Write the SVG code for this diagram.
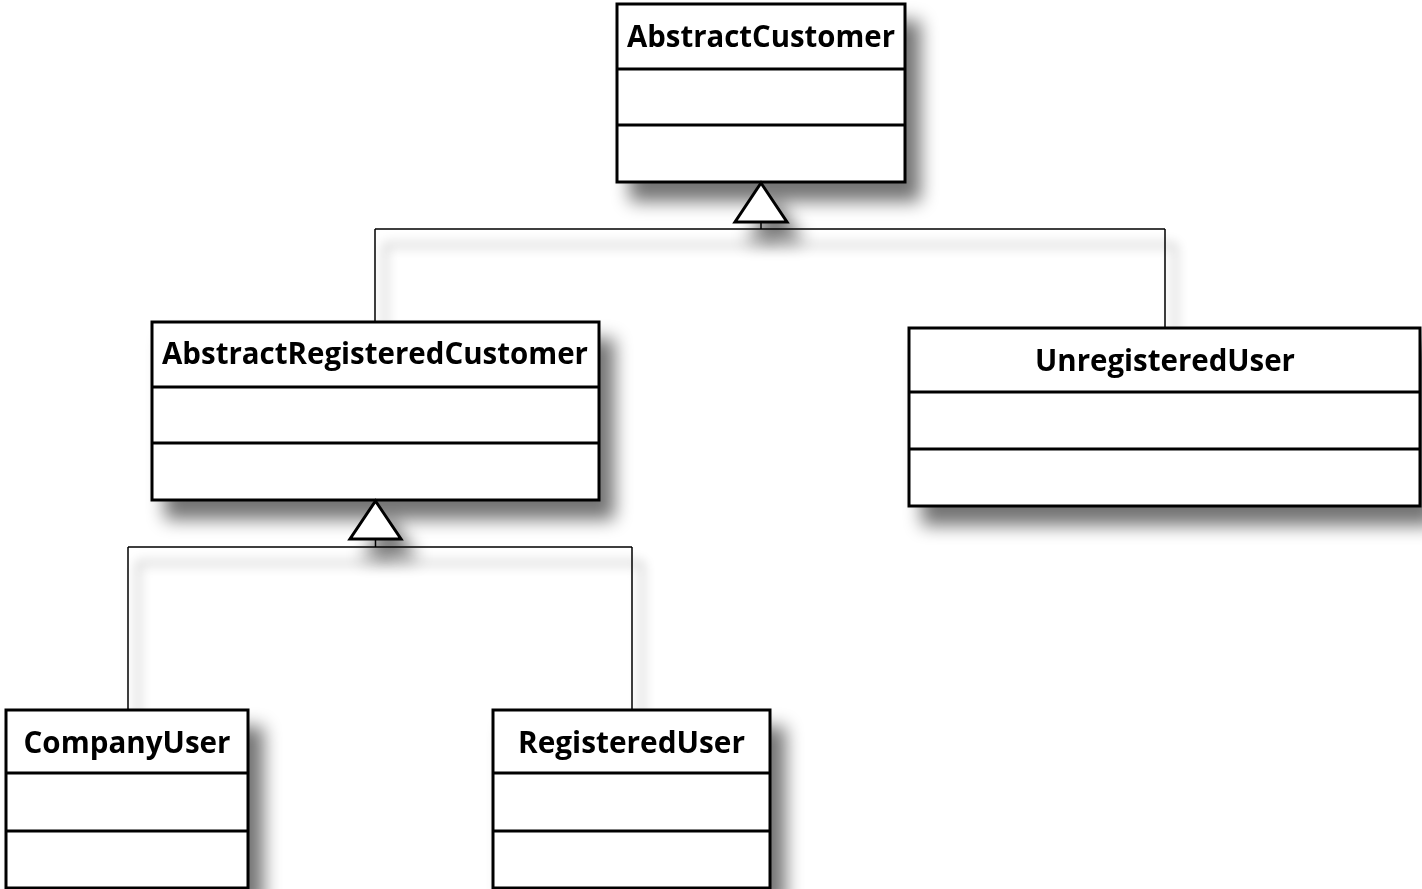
<svg xmlns="http://www.w3.org/2000/svg" width="1422" height="889" viewBox="0 0 1422 889">
<defs>
<filter id="sh" x="-20%" y="-20%" width="150%" height="160%">
<feGaussianBlur in="SourceAlpha" stdDeviation="9" result="b"/>
<feOffset in="b" dx="14" dy="18" result="o"/>
<feComponentTransfer in="o" result="s"><feFuncA type="linear" slope="0.55"/></feComponentTransfer>
<feMerge><feMergeNode in="s"/><feMergeNode in="SourceGraphic"/></feMerge>
</filter>
<filter id="shl" x="-10%" y="-50%" width="120%" height="300%">
<feGaussianBlur in="SourceAlpha" stdDeviation="6" result="b"/>
<feOffset in="b" dx="10" dy="16" result="o"/>
<feComponentTransfer in="o" result="s"><feFuncA type="linear" slope="0.6"/></feComponentTransfer>
<feMerge><feMergeNode in="s"/><feMergeNode in="SourceGraphic"/></feMerge>
</filter>
</defs>
<style>
.box{fill:#fff;stroke:#000;stroke-width:3}
.div{stroke:#000;stroke-width:3}
.ln{fill:none;stroke:#000;stroke-width:1.5}
.tri{fill:#fff;stroke:#000;stroke-width:3;stroke-linejoin:miter}
.t{font-family:"Open Sans","Liberation Sans",sans-serif;font-weight:bold;font-size:30px;fill:#000;text-anchor:middle}
</style>
<rect width="1422" height="889" fill="#fff"/>
<g id="connectors" filter="url(#shl)">
<path class="ln" d="M761 222 V229 M375 229 H1165 M375 229 V322 M1165 229 V328"/>
<path class="ln" d="M375.5 539 V547 M128 547 H632 M128 547 V710 M632 547 V710"/>
</g>
<g id="AbstractCustomer" filter="url(#sh)">
<rect class="box" x="617" y="4" width="288" height="178"/>
<line class="div" x1="617" y1="69" x2="905" y2="69"/>
<line class="div" x1="617" y1="125" x2="905" y2="125"/>
<text class="t" x="761" y="47" textLength="268" lengthAdjust="spacingAndGlyphs">AbstractCustomer</text>
</g>
<g id="AbstractRegisteredCustomer" filter="url(#sh)">
<rect class="box" x="152" y="322" width="447" height="178"/>
<line class="div" x1="152" y1="387" x2="599" y2="387"/>
<line class="div" x1="152" y1="443" x2="599" y2="443"/>
<text class="t" x="375" y="364" textLength="426" lengthAdjust="spacingAndGlyphs">AbstractRegisteredCustomer</text>
</g>
<g id="UnregisteredUser" filter="url(#sh)">
<rect class="box" x="909" y="328" width="511" height="178"/>
<line class="div" x1="909" y1="392" x2="1420" y2="392"/>
<line class="div" x1="909" y1="449" x2="1420" y2="449"/>
<text class="t" x="1165" y="371" textLength="260" lengthAdjust="spacingAndGlyphs">UnregisteredUser</text>
</g>
<g id="CompanyUser" filter="url(#sh)">
<rect class="box" x="6" y="710" width="242" height="178"/>
<line class="div" x1="6" y1="773" x2="248" y2="773"/>
<line class="div" x1="6" y1="831" x2="248" y2="831"/>
<text class="t" x="127" y="753" textLength="207" lengthAdjust="spacingAndGlyphs">CompanyUser</text>
</g>
<g id="RegisteredUser" filter="url(#sh)">
<rect class="box" x="493" y="710" width="277" height="178"/>
<line class="div" x1="493" y1="773" x2="770" y2="773"/>
<line class="div" x1="493" y1="831" x2="770" y2="831"/>
<text class="t" x="631.5" y="753" textLength="227" lengthAdjust="spacingAndGlyphs">RegisteredUser</text>
</g>
<g id="arrowheads" filter="url(#sh)">
<polygon class="tri" points="761,183 787,222 735,222"/>
<polygon class="tri" points="375.5,501 401,539 350,539"/>
</g>
</svg>
